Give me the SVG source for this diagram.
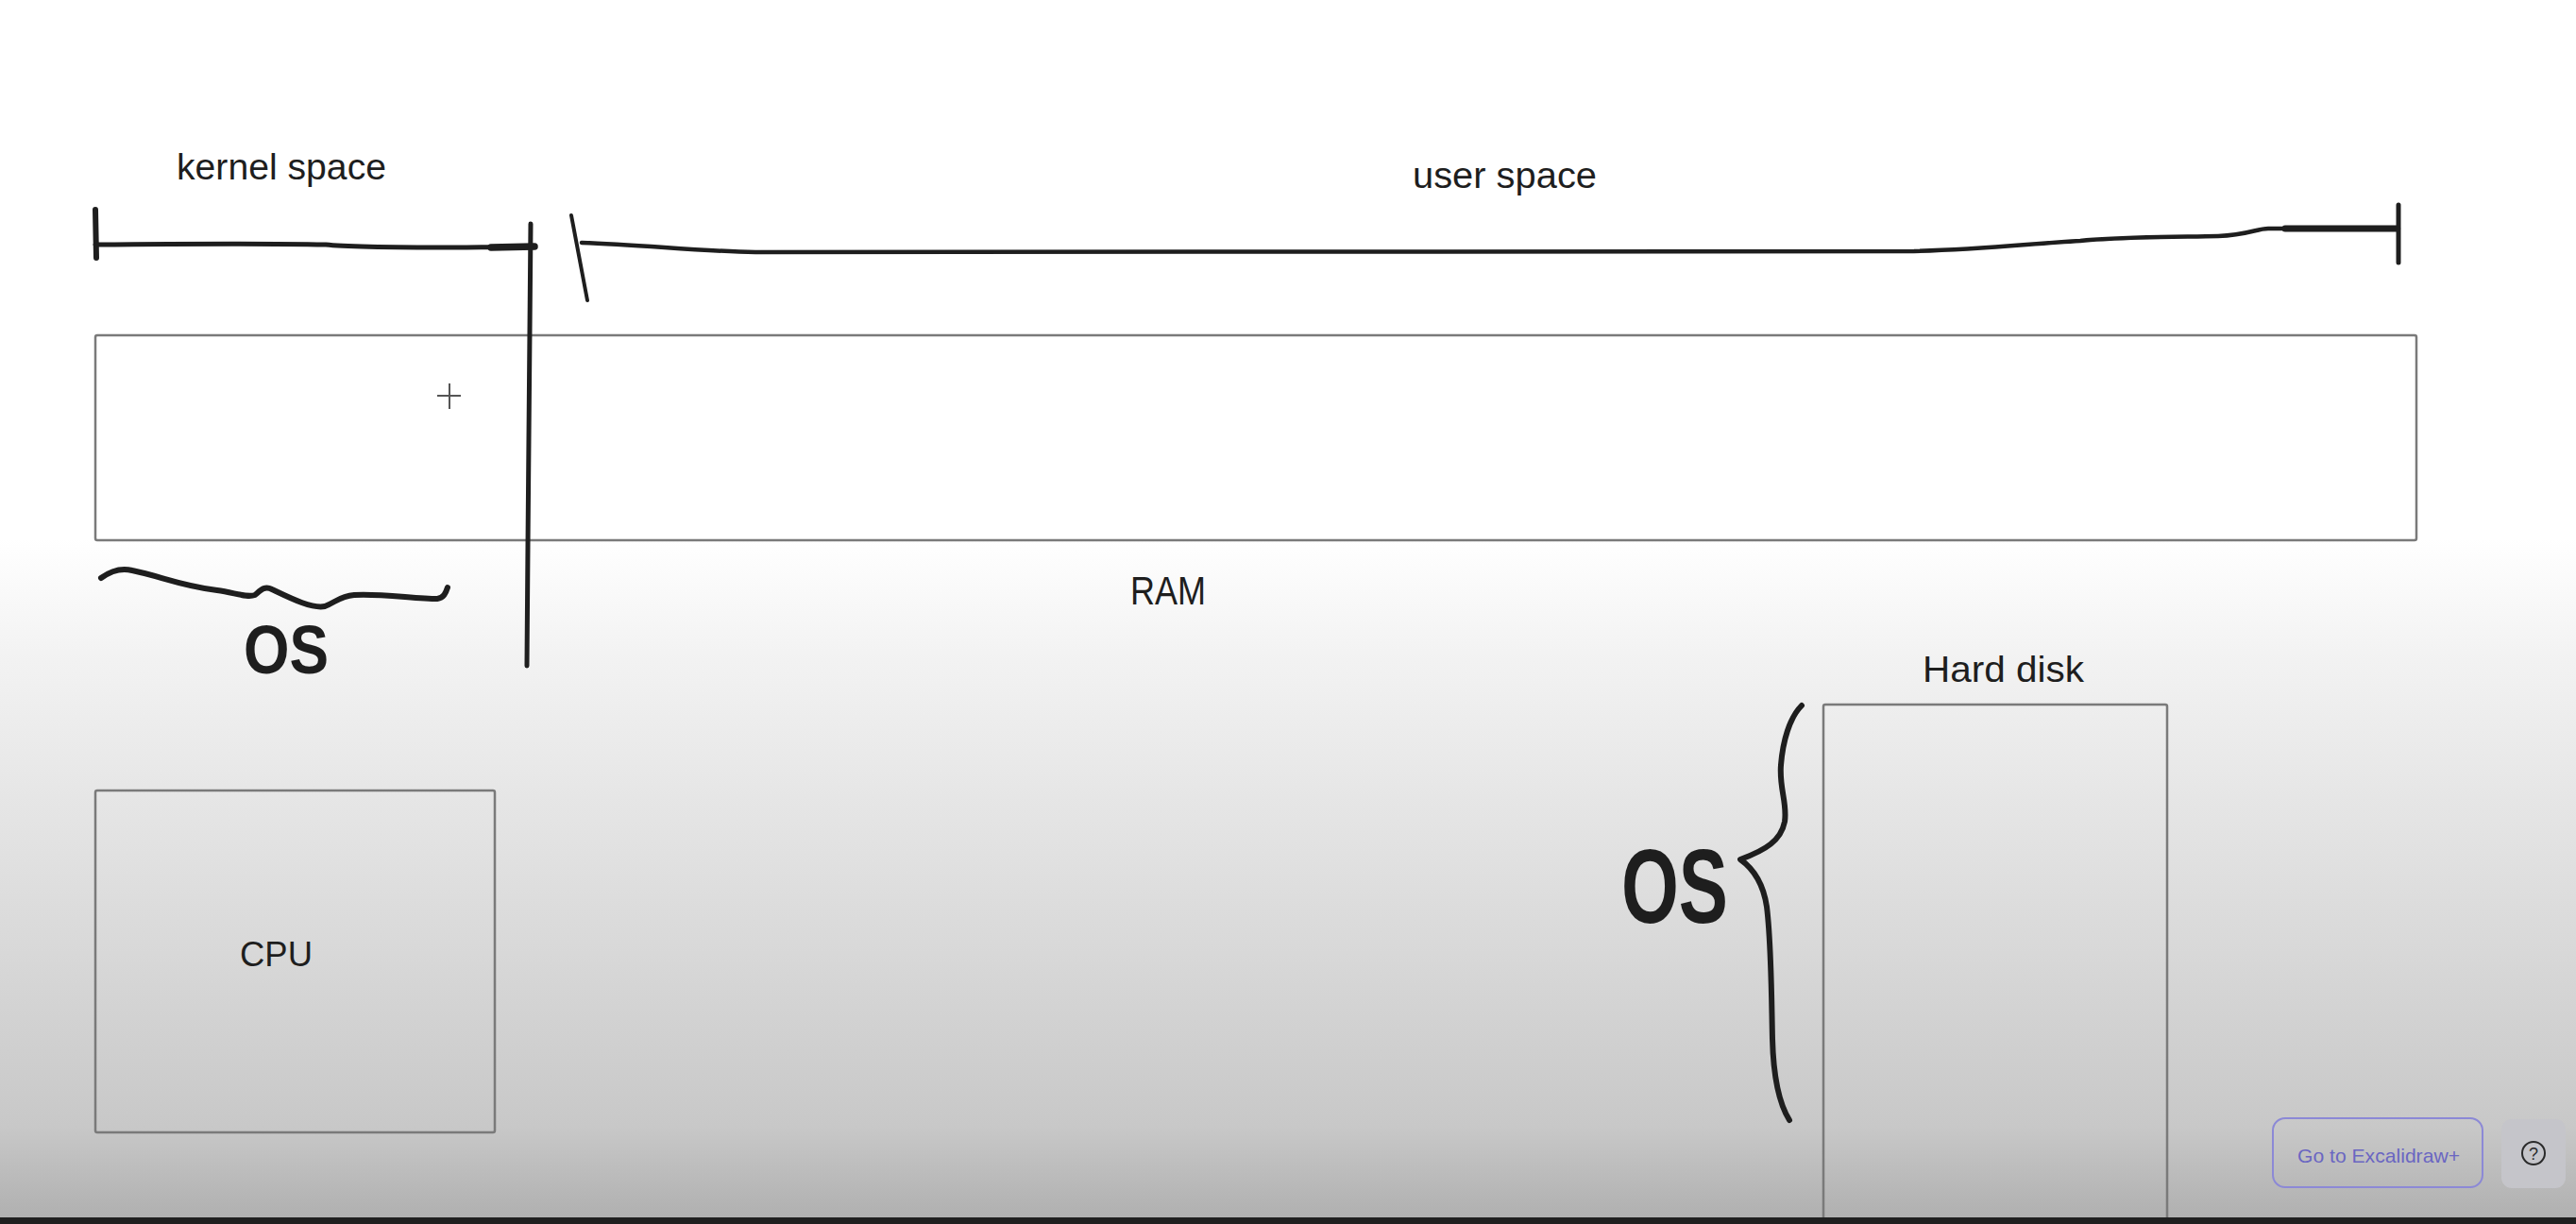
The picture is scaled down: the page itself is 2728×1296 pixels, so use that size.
<svg xmlns="http://www.w3.org/2000/svg" width="2728" height="1296" viewBox="0 0 2728 1296">
  <defs>
    <linearGradient id="bg" gradientUnits="userSpaceOnUse" x1="0" y1="0" x2="0" y2="1296">
      <stop offset="0" stop-color="#ffffff"/>
      <stop offset="0.44" stop-color="#ffffff"/>
      <stop offset="0.54" stop-color="#f2f2f2"/>
      <stop offset="0.66" stop-color="#e5e5e5"/>
      <stop offset="0.77" stop-color="#d9d9d9"/>
      <stop offset="0.92" stop-color="#c8c8c8"/>
      <stop offset="0.995" stop-color="#b0b0b0"/>
    </linearGradient>
    <style>
      .box { fill: none; stroke: #7a7a7a; stroke-width: 2.5; }
      .ink { fill: none; stroke: #1e1e1e; stroke-linecap: round; stroke-linejoin: round; }
      .lbl { font-family: "Liberation Sans", Arial, sans-serif; fill: #1e1e1e; }
      .big { font-family: "Liberation Sans", Arial, sans-serif; font-weight: bold; fill: #1e1e1e; }
    </style>
  </defs>

  <rect x="0" y="0" width="2728" height="1296" fill="url(#bg)"/>
  <rect x="0" y="1289" width="2728" height="7" fill="#1f1f1f"/>

  <g id="ram">
    <rect x="101" y="355" width="2458" height="217" rx="2" fill="#ffffff" stroke="#7a7a7a" stroke-width="2.5"/>
    <text class="lbl" x="1197" y="640" font-size="42" textLength="80" lengthAdjust="spacingAndGlyphs">RAM</text>
  </g>

  <g id="cpu">
    <rect class="box" x="101" y="837" width="423" height="362" rx="2"/>
    <text class="lbl" x="254" y="1023" font-size="36" textLength="77" lengthAdjust="spacingAndGlyphs">CPU</text>
  </g>

  <g id="hard-disk">
    <path class="box" d="M1931,1289 L1931,748 Q1931,746 1933,746 L2293,746 Q2295,746 2295,748 L2295,1289"/>
    <text class="lbl" x="2036" y="722" font-size="39" textLength="171" lengthAdjust="spacingAndGlyphs">Hard disk</text>
  </g>

  <g id="kernel-space-label">
    <text class="lbl" x="187" y="190" font-size="38" textLength="222" lengthAdjust="spacingAndGlyphs">kernel space</text>
  </g>

  <g id="user-space-label">
    <text class="lbl" x="1496" y="199" font-size="38" textLength="195" lengthAdjust="spacingAndGlyphs">user space</text>
  </g>

  <g id="os-ram-label">
    <text class="big" x="258" y="713" font-size="72" textLength="90" lengthAdjust="spacingAndGlyphs">OS</text>
  </g>

  <g id="os-disk-label">
    <text class="big" x="1717" y="977" font-size="112" textLength="113" lengthAdjust="spacingAndGlyphs">OS</text>
  </g>

  <g id="connectors">
    <!-- kernel space bar -->
    <path class="ink" stroke-width="6" d="M101,222 L102,273"/>
    <path class="ink" stroke-width="5" d="M101,259 C200,258 300,258 345,259 C370,262 420,262 480,262 C520,262 545,261 566,261"/>
    <path class="ink" stroke-width="7.5" d="M520,262 L566,261"/>
    <!-- kernel / user divider -->
    <path class="ink" stroke-width="5" d="M562,237 C561,400 559,550 558,705"/>
    <!-- user space bar -->
    <path class="ink" stroke-width="4" d="M605,228 L622,318"/>
    <path class="ink" stroke-width="4.5" d="M616,257 C680,259 740,266 800,267 L2027,266 C2100,264 2150,258 2203,255 C2240,251 2300,251 2349,250 C2380,249 2390,242 2402,242 L2540,242"/>
    <path class="ink" stroke-width="7" d="M2420,242 L2538,242"/>
    <path class="ink" stroke-width="5" d="M2540,217 L2540,278"/>
    <!-- brace under kernel space -->
    <path class="ink" stroke-width="6" d="M107,612 C118,604 128,601 140,604 C170,610 190,620 230,625 C250,628 262,633 270,630 C276,625 280,620 288,624 C305,632 330,645 344,642 C355,638 360,631 375,630 C400,628 440,634 463,634 C470,633 472,628 474,622"/>
    <!-- brace beside hard disk -->
    <path class="ink" stroke-width="6" d="M1908,747 C1895,760 1888,785 1886,810 C1884,835 1893,850 1890,870 C1886,890 1870,900 1843,910 C1860,922 1868,940 1871,960 C1876,1000 1876,1060 1877,1100 C1878,1140 1885,1170 1895,1186"/>
  </g>

  <g id="cursor">
    <path d="M463,419 L488,419 M476,406 L476,433" stroke="#555555" stroke-width="2" fill="none"/>
  </g>

  <g id="excalidraw-plus-button">
    <rect x="2407" y="1184" width="222" height="73" rx="13" fill="none" stroke="#8c89d6" stroke-width="2"/>
    <text x="2433" y="1231" font-family="'Liberation Sans', Arial, sans-serif" font-size="21" fill="#6a66c2" textLength="172" lengthAdjust="spacingAndGlyphs">Go to Excalidraw+</text>
  </g>

  <g id="help-button">
    <rect x="2649" y="1185" width="68" height="73" rx="11" fill="#c5c5ca"/>
    <circle cx="2683" cy="1221" r="12" fill="none" stroke="#2a2a2a" stroke-width="2"/>
    <text x="2683" y="1228" font-family="'Liberation Sans', Arial, sans-serif" font-size="18" fill="#2a2a2a" text-anchor="middle">?</text>
  </g>
</svg>
